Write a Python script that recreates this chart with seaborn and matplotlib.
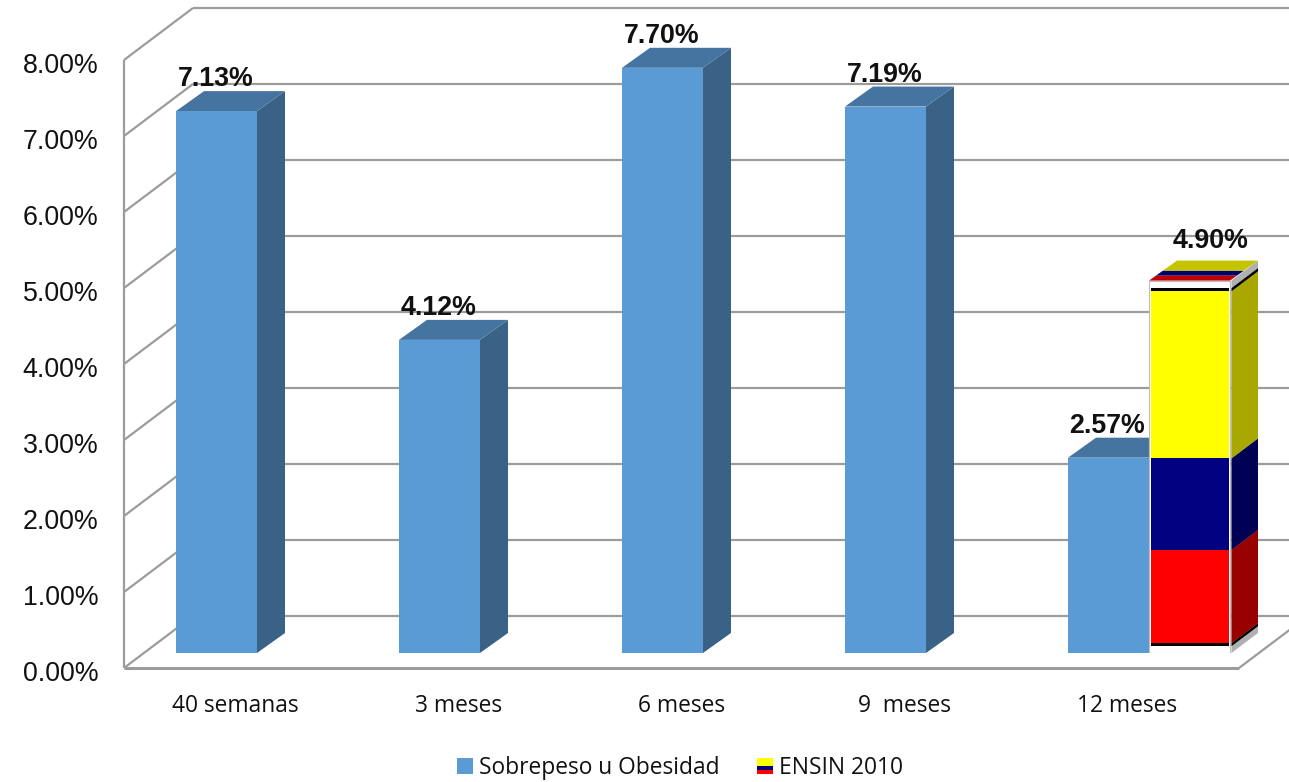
import matplotlib
matplotlib.use("Agg")
import matplotlib.pyplot as plt
from matplotlib.patches import Patch, Polygon, Rectangle
from matplotlib.legend_handler import HandlerBase
from matplotlib.ticker import PercentFormatter
from matplotlib.transforms import ScaledTranslation
import pandas as pd
import seaborn as sns

categories = ["40 semanas", "3 meses", "6 meses", "9  meses", "12 meses"]
sobrepeso = [7.13, 4.12, 7.70, 7.19, 2.57]
ensin = [None, None, None, None, 4.90]
series_names = ["Sobrepeso u Obesidad", "ENSIN 2010"]
y_ticks = [0, 1, 2, 3, 4, 5, 6, 7, 8]

# Flag picture that fills the ENSIN bar: band limits, bottom to top
flag_lower = [0.09, 0.13, 1.355, 2.56, 4.76]
flag_upper = [0.13, 1.355, 2.56, 4.76, 4.80]
flag_front = ["#000000", "#FF0000", "#000080", "#FFFF00", "#000000"]
flag_side = ["#000000", "#990000", "#000055", "#A8A800", "#000000"]

BLUE, BLUE_TOP, BLUE_SIDE = "#5B9BD5", "#4674A0", "#3A6286"
GRID = "#9C9C9C"

W, H = 1289, 782
PX_X = 223.0   # pixels per category
PX_Y = 76.0    # pixels per percentage point

sns.set_theme(style="white")
plt.rcParams["font.family"] = ["Liberation Sans", "DejaVu Sans"]
SANS = ["Open Sans", "DejaVu Sans"]

fig = plt.figure(figsize=(W / 100, H / 100), dpi=100)
fig.patch.set_facecolor("white")


def axes_at(left_px, zero_px):
    return fig.add_axes([left_px / W, (H - zero_px) / H, 5 * PX_X / W, 8 * PX_Y / H])


# ---------- frame: walls and floor of the 3-D box ----------
frame = axes_at(124, 668)
frame.set_xlim(-0.5, 4.5)
frame.set_ylim(0, 8)
for s in frame.spines.values():
    s.set_visible(False)
frame.patch.set_visible(False)
wall_dx, wall_dy = 69 / PX_X, 52 / PX_Y
line = dict(color=GRID, lw=1.6, clip_on=False, solid_capstyle="butt", zorder=1)
for v in y_ticks:
    frame.plot([-0.5 + wall_dx, 4.5 + wall_dx], [v + wall_dy, v + wall_dy], **line)
    frame.plot([-0.5, -0.5 + wall_dx], [v, v + wall_dy], **line)
frame.plot([-0.5, -0.5], [0, 8], **line)
frame.plot([-0.5, 4.5], [0, 0], **{**line, "lw": 2.2})
frame.plot([4.5, 4.5 + wall_dx], [0, wall_dy], **line)

frame.set_yticks(y_ticks)
frame.yaxis.set_major_formatter(PercentFormatter(100, decimals=2))
frame.set_xticks(range(len(categories)))
frame.set_xticklabels(categories, family=SANS, fontsize=16.4, color="#111111")
frame.tick_params(axis="y", length=0, pad=18.5, labelsize=19.3, labelcolor="#111111")
frame.tick_params(axis="x", length=0, pad=19)
down3 = ScaledTranslation(0, -3 / 100, fig.dpi_scale_trans)
for lab in frame.get_yticklabels():
    lab.set_transform(lab.get_transform() + down3)

# ---------- bars, in an axes shifted onto the box floor ----------
bars = axes_at(124 + 21.5, 653)
bars.patch.set_visible(False)
bars.set_zorder(frame.get_zorder() + 1)

df = pd.DataFrame({
    "periodo": categories * 2,
    "valor": sobrepeso + ensin,
    "serie": [series_names[0]] * 5 + [series_names[1]] * 5,
})
df["valor"] = pd.to_numeric(df["valor"])
sns.barplot(data=df, x="periodo", y="valor", hue="serie", order=categories,
            hue_order=series_names, palette=[BLUE, "#FFFFFF"], width=162 / PX_X,
            gap=0, dodge=True, legend=False, saturation=1, linewidth=0, ax=bars, zorder=3)
bars.set_xlim(-0.5, 4.5)
bars.set_ylim(0, 8)
bars.axis("off")

dx, dy = 28 / PX_X, 20 / PX_Y


def side_face(x, y0, y1, color, z, inset=0.0):
    bars.add_patch(Polygon([(x + inset, y0), (x + dx, y0 + dy), (x + dx, y1 + dy), (x + inset, y1)],
                           closed=True, fc=color, ec="none", zorder=z, clip_on=False))


def top_face(x, w, y, f0, f1, color, z):
    bars.add_patch(Polygon([(x + f0 * dx, y + f0 * dy), (x + w + f0 * dx, y + f0 * dy),
                            (x + w + f1 * dx, y + f1 * dy), (x + f1 * dx, y + f1 * dy)],
                           closed=True, fc=color, ec="none", zorder=z, clip_on=False))


blue_bars = list(bars.containers[0])
ensin_bars = [p for p in bars.containers[1] if p.get_height() > 0]

for p in blue_bars:
    x, w, h = p.get_x(), p.get_width(), p.get_height()
    side_face(x + w, 0, h, BLUE_SIDE, 2.5)
    top_face(x, w, h, 0, 1, BLUE_TOP, 2.5)
    bars.annotate(f"{h:.2f}%", (x + w / 2, h), xytext=(-1, 32), textcoords="offset pixels",
                  ha="center", va="center", fontsize=19.3, fontweight="bold", color="#111111", zorder=6)

for p in ensin_bars:
    x, w, h = p.get_x(), p.get_width(), p.get_height()
    p.set_edgecolor("#BDBDBD")
    p.set_linewidth(0.8)
    p.set_zorder(4)
    inset = 1.5 / PX_X
    side_face(x + w, 0, h, "#B0B0B0", 2.5, inset)
    for lo, up, fc, sc in zip(flag_lower, flag_upper, flag_front, flag_side):
        bars.bar(x + w / 2, up - lo, width=w - 2 * inset, bottom=lo, color=fc, lw=0, zorder=5)
        side_face(x + w, lo, up, sc, 2.6, inset)
    top_face(x, w, h, 0, 0.25, "#C00000", 2.5)
    top_face(x, w, h, 0.25, 0.5, "#000066", 2.5)
    top_face(x, w, h, 0.5, 1, "#C4C400", 2.5)
    bars.annotate(f"{h:.2f}%", (x + w / 2, h), xytext=(21, 40), textcoords="offset pixels",
                  ha="center", va="center", fontsize=19.3, fontweight="bold", color="#111111", zorder=6)


# ---------- legend ----------
class FlagHandler(HandlerBase):
    def create_artists(self, legend, orig_handle, xd, yd, width, height, fontsize, trans):
        out = []
        stripes = [("#FF0000", 0.25), ("#000080", 0.25), ("#FFFF00", 0.5)]
        bottom = -yd
        for color, frac in stripes:
            out.append(Rectangle((-xd, bottom), width, height * frac, fc=color, ec="none", transform=trans))
            bottom += height * frac
        return out


flag_handle = Patch(label=series_names[1])
leg = fig.legend(handles=[Patch(fc=BLUE, ec="none", label=series_names[0]), flag_handle],
                 handler_map={flag_handle: FlagHandler()},
                 loc="center", bbox_to_anchor=(680 / W, (H - 768) / H), ncol=2, frameon=False,
                 prop={"family": SANS, "size": 16.4},
                 handlelength=0.68, handleheight=0.68, handletextpad=0.27, columnspacing=1.66,
                 labelcolor="#111111")

fig.savefig("out.png", dpi=100, facecolor="white")
